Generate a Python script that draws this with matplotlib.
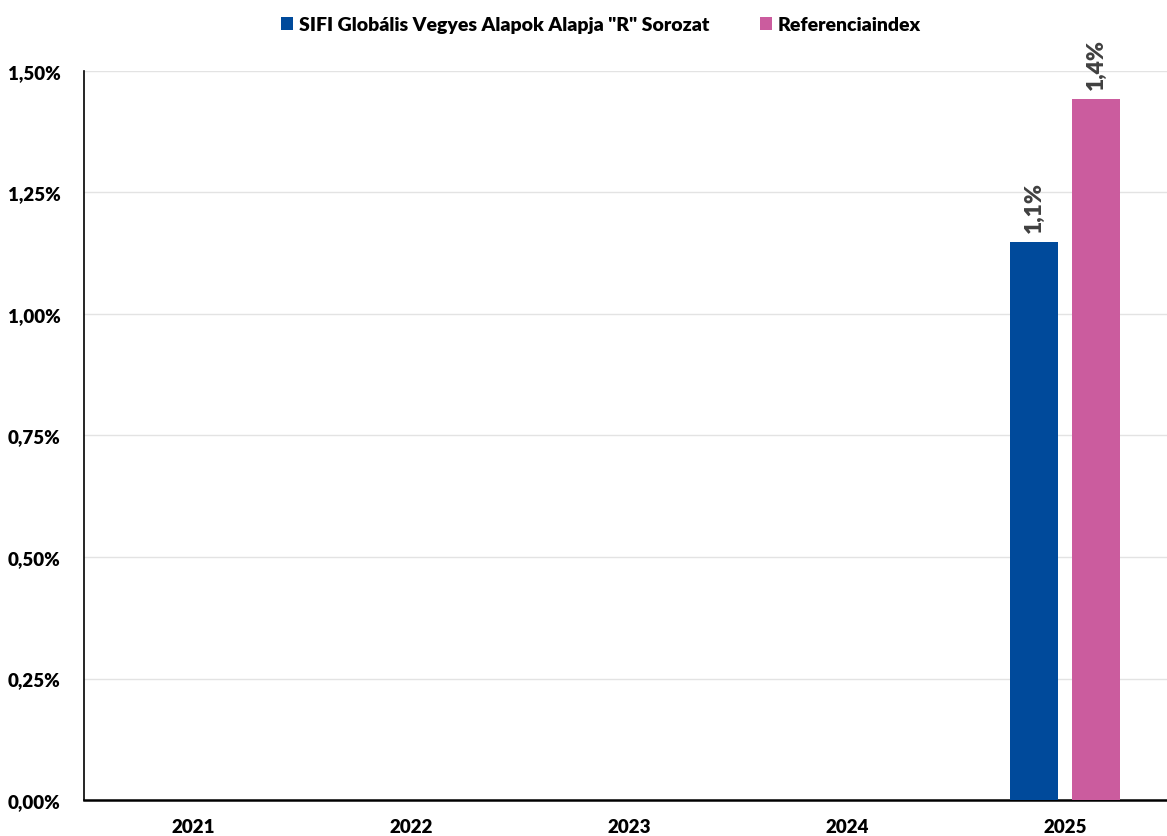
import matplotlib
matplotlib.use("Agg")
import matplotlib.pyplot as plt
import numpy as np

years = ["2021", "2022", "2023", "2024", "2025"]
fund = [np.nan, np.nan, np.nan, np.nan, 1.148]
index = [np.nan, np.nan, np.nan, np.nan, 1.442]
yticks = [0, 0.25, 0.5, 0.75, 1.0, 1.25, 1.5]
series_names = ['SIFI Globális Vegyes Alapok Alapja "R" Sorozat', "Referenciaindex"]
colors = ["#004A9B", "#CB5C9E"]

plt.rcParams['font.family'] = ['Lato', 'DejaVu Sans']
plt.rcParams['font.weight'] = 'bold'

fig = plt.figure(figsize=(11.67, 8.37), dpi=100)
ax = fig.add_axes([0.072, 0.043, 0.934, 0.871])

x = np.arange(len(years))
w = 0.22
off = 0.142
b1 = ax.bar(x - off, fund, width=w, color=colors[0], label=series_names[0], zorder=3)
b2 = ax.bar(x + off, index, width=w, color=colors[1], label=series_names[1], zorder=3)

for bars, vals in ((b1, fund), (b2, index)):
    for rect, v in zip(bars, vals):
        if np.isnan(v):
            continue
        ax.annotate(f"{v:.1f}%".replace(".", ","),
                    (rect.get_x() + rect.get_width() / 2, v),
                    xytext=(0, 7), textcoords="offset points",
                    rotation=90, ha="center", va="bottom",
                    fontsize=16.5, fontweight="heavy", color="#404040")

ax.set_xlim(-0.5, len(years) - 0.5)
ax.set_ylim(0, 1.5)
ax.set_yticks(yticks)
ax.set_yticklabels([f"{t:.2f}%".replace(".", ",") for t in yticks], fontsize=13.5, fontweight="heavy")
ax.set_xticks(x)
ax.set_xticklabels(years, fontsize=13.5, fontweight="heavy")
ax.tick_params(axis="both", length=0)
ax.tick_params(axis="y", pad=17)
ax.tick_params(axis="x", pad=13)
ax.yaxis.grid(True, color="#E3E3E3", linewidth=1, zorder=0)
ax.set_axisbelow(True)
for s in ["top", "right"]:
    ax.spines[s].set_visible(False)
ax.spines["left"].set_linewidth(1.2)
ax.spines["bottom"].set_linewidth(1.8)
ax.spines["left"].set_color("black")
ax.spines["bottom"].set_color("black")

fig.legend(handles=[b1, b2], labels=series_names, loc="upper center",
           bbox_to_anchor=(0.515, 1.0), ncol=2, frameon=False,
           prop={"size": 14, "weight": "heavy"}, handlelength=0.6, handleheight=0.6,
           handletextpad=0.3, columnspacing=2.6)

fig.savefig("out.png", dpi=100)
